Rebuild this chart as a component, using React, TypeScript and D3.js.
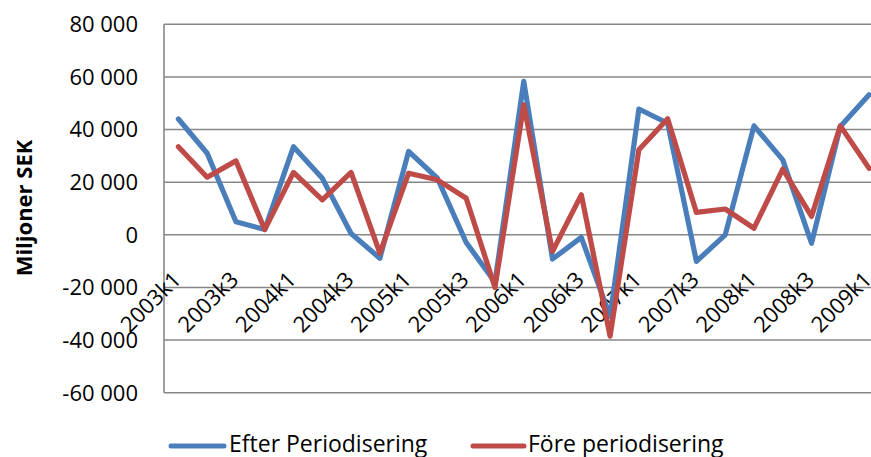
import React from 'react';
import * as d3 from 'd3';

const quarters = [
  '2003k1', '2003k2', '2003k3', '2003k4',
  '2004k1', '2004k2', '2004k3', '2004k4',
  '2005k1', '2005k2', '2005k3', '2005k4',
  '2006k1', '2006k2', '2006k3', '2006k4',
  '2007k1', '2007k2', '2007k3', '2007k4',
  '2008k1', '2008k2', '2008k3', '2008k4',
  '2009k1',
];
const efterPeriodisering = [
  44000, 31000, 5000, 2000, 33500, 21500, 500, -8900, 31700, 21500, -2900, -18000,
  58300, -9200, -1000, -31000, 47800, 42400, -10100, 0, 41400, 28500, -3200, 41200, 53200,
];
const forePeriodisering = [
  33500, 21900, 28100, 2000, 23700, 13300, 23700, -7000, 23400, 20900, 13900, -20000,
  49400, -6300, 15200, -38500, 32300, 44100, 8500, 9800, 2500, 25000, 7000, 41400, 25300,
];
const yTicks = [-60000, -40000, -20000, 0, 20000, 40000, 60000, 80000];
const shownLabels = [
  '2003k1', '2003k3', '2004k1', '2004k3', '2005k1', '2005k3', '2006k1',
  '2006k3', '2007k1', '2007k3', '2008k1', '2008k3', '2009k1',
];
const seriesNames = ['Efter Periodisering', 'Före periodisering'];

const W = 871;
const H = 457;
const BLUE = '#4A7EBB';
const RED = '#BE4B48';
const GRID = '#878787';
const FONT = '"Open Sans", "Liberation Sans", sans-serif';

export default function App() {
  const plotLeft = 164;
  const plotRight = plotLeft + 25 * 28.78;
  const x = d3.scaleBand().domain(quarters).range([plotLeft, plotRight]);
  const y = d3.scaleLinear().domain([-60000, 80000]).range([392.7, 24.3]);
  const cx = (q: string) => (x(q) as number) + x.bandwidth() / 2;

  const fmt = d3.formatLocale({
    decimal: ',', thousands: ' ', grouping: [3], currency: ['', ''], minus: '-',
  }).format(',');

  const line = d3.line<number>()
    .x((_, i) => cx(quarters[i]))
    .y(d => y(d));

  return (
    <svg width={W} height={H} style={{ position: 'absolute', left: 0, top: 0, background: '#fff' }}
      fontFamily={FONT}>
      {yTicks.map(t => (
        <g key={t}>
          <line x1={plotLeft} x2={W} y1={y(t)} y2={y(t)} stroke={GRID} strokeWidth={1.6} />
          <text x={138} y={y(t)} dy="0.36em" textAnchor="end" fontSize={22} fill="#000">{fmt(t)}</text>
        </g>
      ))}
      <line x1={plotLeft} x2={plotLeft} y1={y(80000)} y2={y(-60000)} stroke={GRID} strokeWidth={1.6} />

      <text transform={`translate(32,${208}) rotate(-90)`} textAnchor="middle" fontSize={22}
        fontWeight="bold" fill="#000">Miljoner SEK</text>

      {shownLabels.map(q => (
        <text key={q} transform={`translate(${cx(q) + 4},${281}) rotate(-45)`} textAnchor="end"
          fontSize={22} fill="#000">{q}</text>
      ))}

      <path d={line(efterPeriodisering) ?? ''} fill="none" stroke={BLUE} strokeWidth={5.2}
        strokeLinejoin="round" strokeLinecap="round" />
      <path d={line(forePeriodisering) ?? ''} fill="none" stroke={RED} strokeWidth={5.2}
        strokeLinejoin="round" strokeLinecap="round" />

      <g>
        <line x1={171} x2={224} y1={446} y2={446} stroke={BLUE} strokeWidth={5} strokeLinecap="round" />
        <text x={229} y={452} fontSize={23} fill="#000">{seriesNames[0]}</text>
        <line x1={473} x2={524} y1={446} y2={446} stroke={RED} strokeWidth={5} strokeLinecap="round" />
        <text x={528} y={452} fontSize={23} fill="#000">{seriesNames[1]}</text>
      </g>
    </svg>
  );
}
